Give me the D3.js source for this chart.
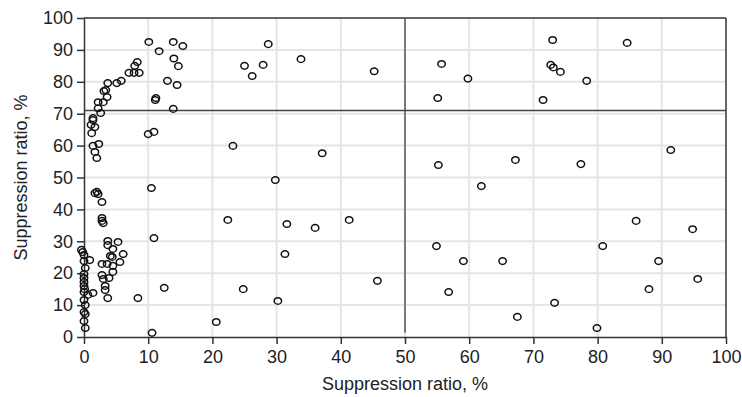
<!DOCTYPE html>
<html><head><meta charset="utf-8">
<script src="https://cdn.jsdelivr.net/npm/d3@7"></script>
<style>body{margin:0;background:#fff}svg{display:block}</style>
</head><body><svg id="c" width="742" height="397"></svg>
<script>
const ratioX = [73.0,84.6,55.7,72.7,73.1,74.2,59.8,78.3,55.1,71.5,91.4,55.2,67.2,77.4,61.9,86.0,94.8,54.9,80.8,59.1,65.2,89.5,95.6,56.8,88.0,73.3,67.5,79.9,
28.7,25.0,26.2,27.9,33.8,45.2,23.2,37.1,29.8,22.4,31.6,36.0,41.3,31.3,45.7,24.8,30.2,20.6,
10.1,11.7,13.9,15.4,14.0,14.7,13.0,14.5,11.1,11.2,13.9,8.3,7.9,7.0,7.8,8.6,5.1,5.8,3.7,3.4,3.1,3.6,3.0,2.2,2.2,2.6,1.4,1.4,1.1,1.7,1.2,10.0,10.9,1.4,2.3,1.7,2.0,
2.0,1.7,2.2,2.8,10.5,2.8,2.8,3.0,10.9,3.7,5.3,3.7,4.5,6.1,4.4,4.1,5.6,2.8,3.6,4.5,4.5,2.8,3.0,3.9,3.3,3.3,3.7,8.4,12.5,10.6,
-0.4,-0.2,0,0.9,0,0.2,0,0,0,0,0.1,0,1.4,0.6,0,0.2,0,0.2,0,0.2];
const ratioY = [93.1,92.2,85.6,85.3,84.5,83.1,81.0,80.3,74.9,74.3,58.6,53.9,55.5,54.2,47.3,36.4,33.8,28.5,28.5,23.8,23.8,23.8,18.2,14.1,15.0,10.7,6.3,2.8,
91.8,85.0,81.8,85.3,87.1,83.3,59.9,57.6,49.2,36.7,35.4,34.2,36.7,26.0,17.6,15.0,11.3,4.7,
92.5,89.6,92.5,91.2,87.3,84.9,80.3,79.0,74.3,74.9,71.5,86.2,85.0,82.8,82.8,82.8,79.6,80.3,79.6,77.4,77.1,75.2,73.6,73.6,71.7,70.2,68.6,68.0,66.5,65.8,63.9,63.6,64.3,59.9,60.5,58.0,56.1,
45.5,45.1,44.8,42.3,46.7,37.3,36.4,35.7,31.0,30.1,29.8,28.8,27.6,26.0,25.1,25.4,23.5,22.9,22.9,22.3,20.4,19.4,18.2,18.5,16.0,14.7,12.2,12.2,15.4,1.3,
27.3,26.6,25.7,24.1,23.8,21.6,19.7,18.5,17.2,16.0,15.0,14.1,13.8,13.2,11.6,10.0,7.8,7.2,5.0,2.8];
const xTicks = [0,10,20,30,40,50,60,70,80,90,100];
const yTicks = [0,10,20,30,40,50,60,70,80,90,100];
const xTitle = "Suppression ratio, %";
const yTitle = "Suppression ratio, %";
const thresholdX = 50, thresholdXFrom = 1.3;
const thresholdY = 71;

const W = 742, H = 397, m = {l:84, r:16, t:18, b:60};
const svg = d3.select("#c");
const x = d3.scaleLinear().domain([0,100]).range([m.l, W-m.r]);
const y = d3.scaleLinear().domain([0,100]).range([H-m.b, m.t]);
const font = "'Liberation Sans', Arial, sans-serif";
const fs = "18px";

// grid
svg.append("g").selectAll("line").data(xTicks.slice(1,-1)).join("line")
  .attr("x1",d=>x(d)).attr("x2",d=>x(d)).attr("y1",y(0)).attr("y2",y(100))
  .attr("stroke","#e5e5e5").attr("stroke-width",2);
svg.append("g").selectAll("line").data(yTicks.slice(1,-1)).join("line")
  .attr("y1",d=>y(d)).attr("y2",d=>y(d)).attr("x1",x(0)).attr("x2",x(100))
  .attr("stroke","#e5e5e5").attr("stroke-width",2);

// frame top/right
svg.append("line").attr("x1",x(0)).attr("x2",x(100)).attr("y1",y(100)).attr("y2",y(100)).attr("stroke","#333").attr("stroke-width",1.5);
svg.append("line").attr("x1",x(100)).attr("x2",x(100)).attr("y1",y(0)).attr("y2",y(100)).attr("stroke","#333").attr("stroke-width",1.5);

// threshold lines
svg.append("line").attr("x1",x(thresholdX)).attr("x2",x(thresholdX)).attr("y1",y(thresholdXFrom)).attr("y2",y(100)).attr("stroke","#555").attr("stroke-width",1.5);
svg.append("line").attr("x1",x(0)).attr("x2",x(100)).attr("y1",y(thresholdY)).attr("y2",y(thresholdY)).attr("stroke","#444").attr("stroke-width",1.5);

// axes
const gx = svg.append("g").attr("transform",`translate(0,${y(0)})`)
  .call(d3.axisBottom(x).tickValues(xTicks).tickSize(7).tickPadding(6).tickSizeOuter(0));
const gy = svg.append("g").attr("transform",`translate(${x(0)},0)`)
  .call(d3.axisLeft(y).tickValues(yTicks).tickSize(7).tickPadding(4).tickSizeOuter(0));
[gx,gy].forEach(g=>{
  g.select(".domain").attr("stroke","#333").attr("stroke-width",1.5);
  g.selectAll(".tick line").attr("stroke","#333").attr("stroke-width",1.5);
  g.selectAll("text").attr("fill","#222").style("font-family",font).style("font-size",fs);
});

// points
svg.append("g").selectAll("ellipse").data(ratioX.map((v,i)=>[v,ratioY[i]])).join("ellipse")
  .attr("cx",d=>x(d[0])).attr("cy",d=>y(d[1])).attr("rx",3.7).attr("ry",3.3)
  .attr("fill","none").attr("stroke","#111").attr("stroke-width",1.5);

// titles
svg.append("text").attr("x",(x(0)+x(100))/2).attr("y",H-7).attr("text-anchor","middle")
  .style("font-family",font).style("font-size",fs).attr("fill","#222").text(xTitle);
svg.append("text").attr("transform",`translate(27,${(y(0)+y(100))/2}) rotate(-90)`).attr("text-anchor","middle")
  .style("font-family",font).style("font-size",fs).attr("fill","#222").text(yTitle);
</script></body></html>
